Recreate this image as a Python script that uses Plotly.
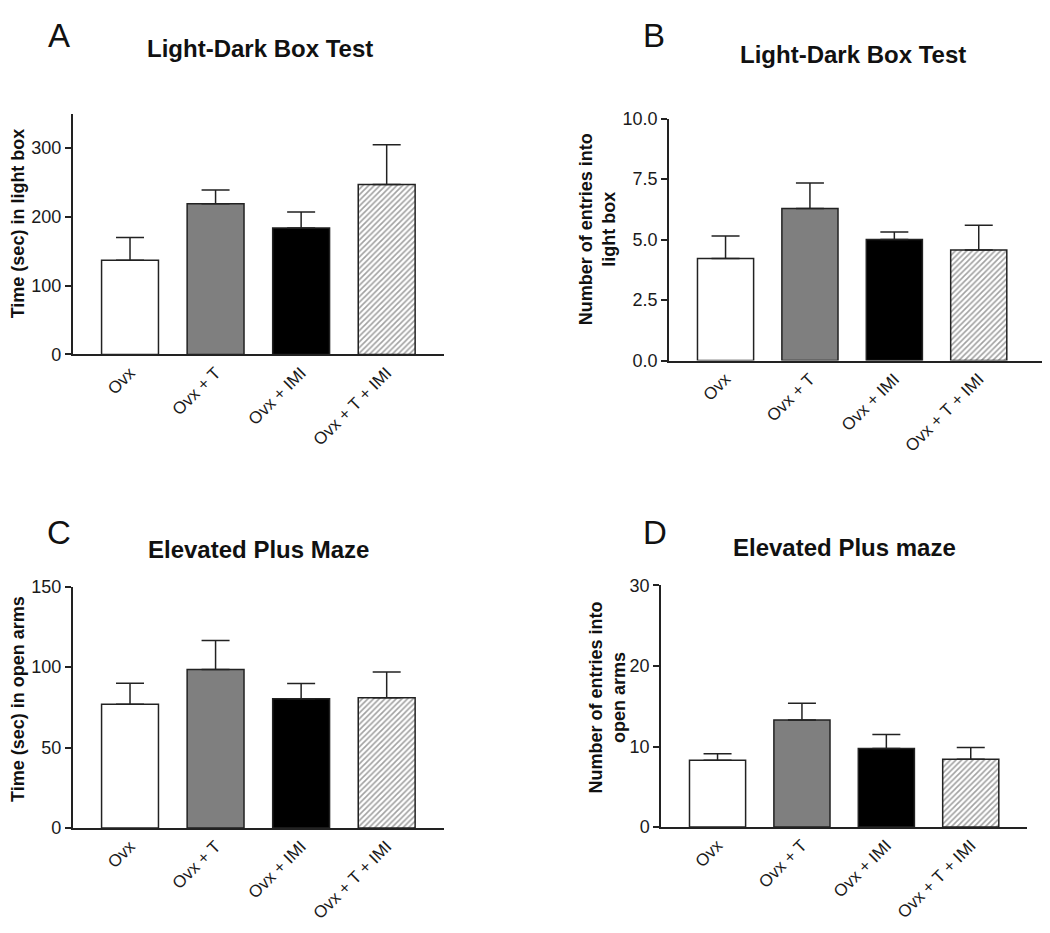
import plotly.graph_objects as go

categories = ["Ovx", "Ovx + T", "Ovx + IMI", "Ovx + T + IMI"]

time_light_box = [137, 219, 184, 247]
time_light_box_sem = [33, 20, 23, 58]

entries_light_box = [4.22, 6.29, 5.0, 4.57]
entries_light_box_sem = [0.93, 1.05, 0.32, 1.02]

time_open_arms = [77, 98.5, 80.4, 81]
time_open_arms_sem = [13, 18, 9.4, 16]

entries_open_arms = [8.3, 13.3, 9.76, 8.42]
entries_open_arms_sem = [0.8, 2.06, 1.74, 1.46]

panel_titles = ["Light-Dark Box Test", "Light-Dark Box Test", "Elevated Plus Maze", "Elevated Plus maze"]
panel_letters = ["A", "B", "C", "D"]
y_titles = ["Time (sec) in light box", "Number of entries into<br>light box",
            "Time (sec) in open arms", "Number of entries into<br>open arms"]
y_ranges = [[0, 350], [0, 10], [0, 150], [0, 30]]
y_dticks = [100, 2.5, 50, 10]

FONT = "Arial, Liberation Sans, sans-serif"
W, H = 1050, 933
fills = ["#ffffff", "#7f7f7f", "#000000", "#ffffff"]
patterns = ["", "", "", "/"]
LINE = "#222222"

# plot areas in pixels: (left, right, top, bottom)
areas = [(72.7, 444, 106, 352), (669, 1041.7, 111, 358.3),
         (72.7, 444, 589.3, 836), (661, 1027.3, 588, 835)]
x_ranges = [[-0.67, 3.67], [-0.67, 3.746], [-0.67, 3.67], [-0.67, 3.67]]

means = [time_light_box, entries_light_box, time_open_arms, entries_open_arms]
sems = [time_light_box_sem, entries_light_box_sem, time_open_arms_sem, entries_open_arms_sem]

fig = go.Figure()
layout = dict(width=W, height=H, margin=dict(l=0, r=0, t=0, b=0),
              paper_bgcolor="white", plot_bgcolor="white", showlegend=False,
              font=dict(family=FONT, color="#1a1a1a"), bargap=0.335)

for i in range(4):
    sx = "" if i == 0 else str(i + 1)
    fig.add_trace(go.Bar(
        x=categories, y=means[i], width=0.665,
        xaxis="x" + sx, yaxis="y" + sx,
        marker=dict(color=fills, line=dict(color=LINE, width=1.5),
                    pattern=dict(shape=patterns, fgcolor="#555555", bgcolor="#ffffff",
                                 size=4, solidity=0.4)),
        error_y=dict(type="data", symmetric=False, array=sems[i],
                     arrayminus=[0] * 4, color=LINE, thickness=1.5, width=14),
    ))
    l, r, t, b = areas[i]
    layout["xaxis" + sx] = dict(
        domain=[l / W, r / W], anchor="y" + sx, range=x_ranges[i],
        showline=True, linecolor=LINE, linewidth=1.5, ticks="",
        tickangle=-45, tickfont=dict(size=17, family=FONT, color="#1a1a1a"),
        showgrid=False, zeroline=False, fixedrange=True)
    layout["yaxis" + sx] = dict(
        domain=[1 - b / H, 1 - t / H], anchor="x" + sx, range=y_ranges[i],
        dtick=y_dticks[i], tick0=0, tickformat=".1f" if i == 1 else "d",
        showline=True, linecolor=LINE, linewidth=1.5,
        ticks="outside", ticklen=6, tickwidth=1.5, tickcolor=LINE,
        tickfont=dict(size=18, family=FONT, color="#1a1a1a"),
        showgrid=False, zeroline=False, fixedrange=True)

annotations = []
letter_pos = [(58.5, 26.5), (654, 26.5), (58.5, 534), (655, 534)]
title_pos = [(259.5, 39), (853, 45), (258.8, 551.7), (844.7, 549)]
ytitle_pos = [(18, 218), (597, 224), (18, 704), (607, 702.5)]
for i in range(4):
    annotations.append(dict(text=panel_letters[i], x=letter_pos[i][0] / W, y=1 - letter_pos[i][1] / H,
                            xref="paper", yref="paper", showarrow=False,
                            xanchor="center", yanchor="middle",
                            font=dict(size=33, family=FONT, color="#111111")))
    annotations.append(dict(text="<b>" + panel_titles[i] + "</b>", x=title_pos[i][0] / W,
                            y=1 - title_pos[i][1] / H, xref="paper", yref="paper",
                            showarrow=False, xanchor="center", yanchor="middle",
                            font=dict(size=24, family=FONT, color="#111111")))
    annotations.append(dict(text="<b>" + y_titles[i] + "</b>", x=ytitle_pos[i][0] / W,
                            y=1 - ytitle_pos[i][1] / H, xref="paper", yref="paper",
                            showarrow=False, xanchor="center", yanchor="middle",
                            textangle=-90,
                            font=dict(size=18, family=FONT, color="#111111")))
layout["annotations"] = annotations
fig.update_layout(**layout)
fig.write_html("out.html", config={"displayModeBar": False},
               post_script="document.body.style.margin='0';document.body.style.overflow='hidden';")
